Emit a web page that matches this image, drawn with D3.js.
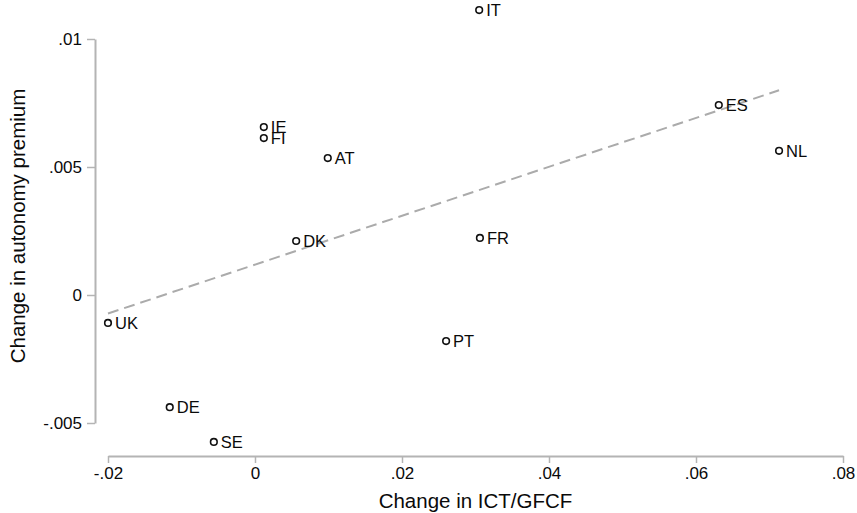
<!DOCTYPE html>
<html>
<head>
<meta charset="utf-8">
<script src="https://d3js.org/d3.v7.min.js"></script>
<style>
  body { margin: 0; background: #fff; }
  text { font-family: "Liberation Sans", Arial, sans-serif; }
</style>
</head>
<body>
<div id="chart"></div>
<script>
// country codes and values
const countries = ["IT", "ES", "NL", "FR", "IE", "FI", "AT", "DK", "UK", "DE", "SE", "PT"];
const ictChange = [0.0305, 0.0631, 0.0713, 0.0306, 0.0012, 0.0012, 0.0099, 0.0056, -0.0200, -0.0116, -0.0056, 0.0260];
const premiumChange = [0.01113, 0.00742, 0.00563, 0.00223, 0.00656, 0.00613, 0.00535, 0.00211, -0.00109, -0.00438, -0.00574, -0.00180];

const xTicks = [-0.02, 0, 0.02, 0.04, 0.06, 0.08];
const xTickLabels = ["-.02", "0", ".02", ".04", ".06", ".08"];
const yTicks = [-0.005, 0, 0.005, 0.01];
const yTickLabels = ["-.005", "0", ".005", ".01"];

const width = 857, height = 513;
const axisColor = "#b4b4b4";
const textColor = "#0a0a0a";

const points = countries.map((c, i) => ({ code: c, x: ictChange[i], y: premiumChange[i] }));

const svg = d3.select("#chart").append("svg")
    .attr("width", width)
    .attr("height", height);

// scales: -.02 -> 108, .08 -> 843 ; .01 -> 39, 0 -> 295
const x = d3.scaleLinear().domain([-0.02, 0.08]).range([108, 843]);
const y = d3.scaleLinear().domain([-0.005, 0.01]).range([423, 39]);

// x axis (Stata style, detached from y axis)
const xAxisY = 456;
const xAxis = d3.axisBottom(x)
    .tickValues(xTicks)
    .tickFormat((d, i) => xTickLabels[i])
    .tickSize(7)
    .tickSizeOuter(0)
    .tickPadding(4);

const gx = svg.append("g")
    .attr("transform", `translate(0,${xAxisY})`)
    .call(xAxis);

// y axis
const yAxisX = 95;
const yAxis = d3.axisLeft(y)
    .tickValues(yTicks)
    .tickFormat((d, i) => yTickLabels[i])
    .tickSize(8)
    .tickSizeOuter(0)
    .tickPadding(5);

const gy = svg.append("g")
    .attr("transform", `translate(${yAxisX},0)`)
    .call(yAxis);

[gx, gy].forEach(g => {
    g.attr("font-size", null).attr("font-family", null);
    g.select(".domain").attr("stroke", axisColor).attr("stroke-width", 2);
    g.selectAll(".tick line").attr("stroke", axisColor).attr("stroke-width", 1.5);
    g.selectAll(".tick text")
        .attr("fill", textColor)
        .style("font-size", "17px")
        .style("font-family", "'Liberation Sans', Arial, sans-serif");
});

// linear fit (OLS over the plotted points)
const mx = d3.mean(points, d => d.x);
const my = d3.mean(points, d => d.y);
const slope = d3.sum(points, d => (d.x - mx) * (d.y - my)) / d3.sum(points, d => (d.x - mx) ** 2);
const intercept = my - slope * mx;
const [xMin, xMax] = d3.extent(points, d => d.x);

svg.append("line")
    .attr("x1", x(xMin))
    .attr("y1", y(intercept + slope * xMin))
    .attr("x2", x(xMax))
    .attr("y2", y(intercept + slope * xMax))
    .attr("stroke", "#ababab")
    .attr("stroke-width", 2)
    .attr("stroke-dasharray", "11,6");

// points
svg.append("g")
    .selectAll("circle")
    .data(points)
    .enter().append("circle")
    .attr("cx", d => x(d.x))
    .attr("cy", d => y(d.y))
    .attr("r", 3.3)
    .attr("fill", "none")
    .attr("stroke", "#111")
    .attr("stroke-width", 1.6);

// labels
svg.append("g")
    .selectAll("text")
    .data(points)
    .enter().append("text")
    .attr("x", d => x(d.x) + 7)
    .attr("y", d => y(d.y))
    .attr("dy", "0.36em")
    .attr("fill", textColor)
    .style("font-size", "16.5px")
    .text(d => d.code);

// axis titles
svg.append("text")
    .attr("x", (x(-0.02) + x(0.08)) / 2)
    .attr("y", 508)
    .attr("text-anchor", "middle")
    .attr("fill", textColor)
    .style("font-size", "20.5px")
    .text("Change in ICT/GFCF");

svg.append("text")
    .attr("transform", `translate(25,226) rotate(-90)`)
    .attr("text-anchor", "middle")
    .attr("fill", textColor)
    .style("font-size", "20.5px")
    .text("Change in autonomy premium");
</script>
</body>
</html>
